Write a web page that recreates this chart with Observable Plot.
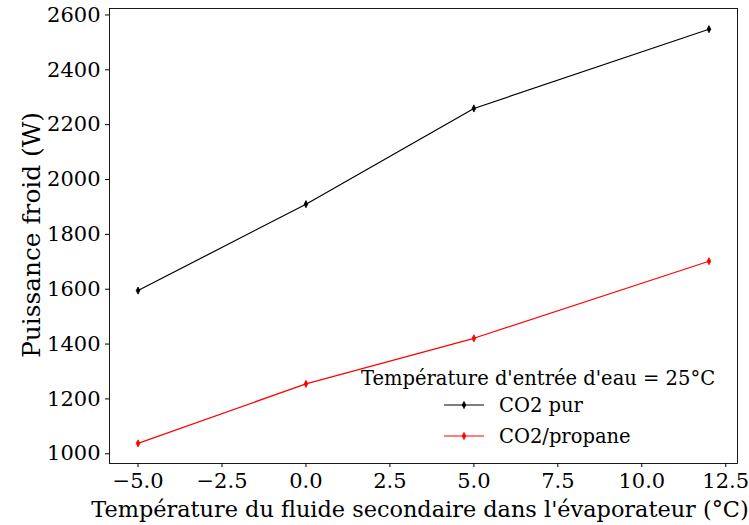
<!DOCTYPE html>
<html>
<head>
<meta charset="utf-8">
<script src="https://cdn.jsdelivr.net/npm/d3@7"></script>
<script src="https://cdn.jsdelivr.net/npm/@observablehq/plot@0.6"></script>
<style>
  html, body { margin: 0; padding: 0; background: #fff; }
  svg { font-family: "DejaVu Serif", serif; }
</style>
</head>
<body>
<div id="chart"></div>
<script>
const temps = [-5, 0, 5, 12];
const co2Pur = [1595, 1910, 2259, 2548];
const co2Propane = [1038, 1255, 1421, 1702];
const seriesNames = ["CO2 pur", "CO2/propane"];
const seriesColors = ["black", "red"];
const xTicks = [-5, -2.5, 0, 2.5, 5, 7.5, 10, 12.5];
const yTicks = [1000, 1200, 1400, 1600, 1800, 2000, 2200, 2400, 2600];
const legendTitle = "Température d'entrée d'eau = 25°C";
const xLabel = "Température du fluide secondaire dans l'évaporateur (°C)";
const yLabel = "Puissance froid (W)";

const data = [
  ...temps.map((t, i) => ({x: t, y: co2Pur[i], s: seriesNames[0]})),
  ...temps.map((t, i) => ({x: t, y: co2Propane[i], s: seriesNames[1]}))
];

const thinDiamond = {
  draw(ctx, size) {
    const r = Math.sqrt(size / Math.PI);
    ctx.moveTo(0, -r);
    ctx.lineTo(r * 0.5, 0);
    ctx.lineTo(0, r);
    ctx.lineTo(-r * 0.5, 0);
    ctx.closePath();
  }
};

const W = 749, H = 525;
const mL = 109, mR = 12, mT = 8, mB = 62;

const plot = Plot.plot({
  width: W, height: H,
  marginLeft: mL, marginRight: mR, marginTop: mT, marginBottom: mB,
  style: {fontFamily: "DejaVu Serif", fontSize: "21px", color: "black", background: "white"},
  x: {domain: [-5.85, 12.85], ticks: xTicks, tickFormat: d3.format(".1f"), tickSize: 4, tickPadding: 6, label: null},
  y: {domain: [964.5, 2623.5], ticks: yTicks, tickFormat: d => String(d), tickSize: 4, tickPadding: 5, label: null},
  color: {domain: seriesNames, range: seriesColors},
  marks: [
    Plot.frame({stroke: "black", strokeWidth: 0.9}),
    Plot.line(data, {x: "x", y: "y", z: "s", stroke: "s", strokeWidth: 1.2}),
    Plot.dot(data, {x: "x", y: "y", fill: "s", stroke: "s", strokeWidth: 0.8, symbol: thinDiamond, r: 3.6})
  ]
});

const svg = d3.select(plot);
// axis titles
svg.append("text")
  .attr("x", 420).attr("y", 517)
  .attr("text-anchor", "middle").attr("font-size", 22.4).attr("fill", "black")
  .text(xLabel);
svg.append("text")
  .attr("transform", `translate(33, 235) rotate(-90)`)
  .attr("text-anchor", "middle").attr("dominant-baseline", "middle")
  .attr("font-size", 24.8).attr("fill", "black")
  .text(yLabel);

// legend
const lg = svg.append("g").attr("font-size", 19.5).attr("fill", "black").attr("text-anchor", "start");
lg.append("text").attr("x", 538).attr("y", 385).attr("text-anchor", "middle").text(legendTitle);
seriesNames.forEach((name, i) => {
  const yy = 405 + i * 31;
  lg.append("line").attr("x1", 444).attr("x2", 484).attr("y1", yy).attr("y2", yy)
    .attr("stroke", seriesColors[i]).attr("stroke-width", 1.2);
  lg.append("path").attr("transform", `translate(464, ${yy})`)
    .attr("d", d3.symbol(thinDiamond, 3.6 * 3.6 * Math.PI)())
    .attr("fill", seriesColors[i]).attr("stroke", seriesColors[i]).attr("stroke-width", 0.8);
  lg.append("text").attr("x", 499).attr("y", yy + 7).attr("text-anchor", "start").text(name);
});

document.getElementById("chart").appendChild(plot);
</script>
</body>
</html>
